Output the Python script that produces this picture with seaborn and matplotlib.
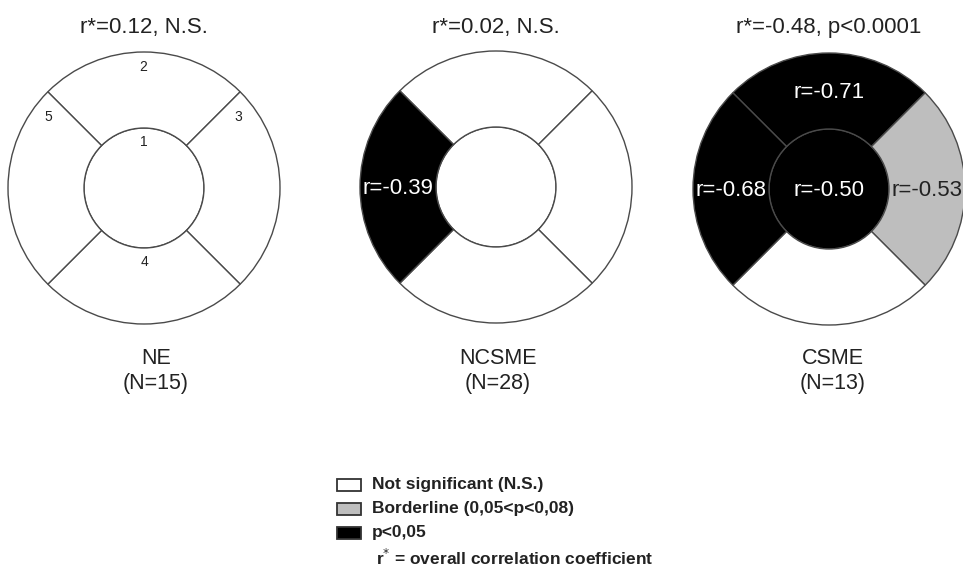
import matplotlib
matplotlib.use("Agg")
import matplotlib.pyplot as plt
from matplotlib.patches import Wedge, Circle, Rectangle
import seaborn as sns

# ---- data -------------------------------------------------------------
groups = ["NE", "NCSME", "CSME"]
n_patients = [15, 28, 13]
overall_r = [0.12, 0.02, -0.48]
overall_p = ["N.S.", "N.S.", "p<0.0001"]

# sector order: 1 = centre, 2 = superior, 3 = right, 4 = inferior, 5 = left
sector_ids = [1, 2, 3, 4, 5]
ne_r = [None, None, None, None, None]
ne_sig = ["ns", "ns", "ns", "ns", "ns"]
ncsme_r = [None, None, None, None, -0.39]
ncsme_sig = ["ns", "ns", "ns", "ns", "sig"]
csme_r = [-0.50, -0.71, -0.53, None, -0.68]
csme_sig = ["sig", "sig", "border", "ns", "sig"]

sector_r = [ne_r, ncsme_r, csme_r]
sector_sig = [ne_sig, ncsme_sig, csme_sig]

legend_labels = ["Not significant (N.S.)", "Borderline (0,05<p<0,08)", "p<0,05"]
legend_keys = ["ns", "border", "sig"]
legend_note = "r$^{*}$ = overall correlation coefficient"

# ---- style ------------------------------------------------------------
sns.set_theme(style="white")
plt.rcParams["font.family"] = ["Liberation Sans", "DejaVu Sans"]

fill = {"ns": "#ffffff", "border": "#bebebe", "sig": "#000000"}
text_col = {"ns": "#222222", "border": "#222222", "sig": "#ffffff"}
edge = "#4a4a4a"

W, H = 963, 572
fig = plt.figure(figsize=(W / 100, H / 100), dpi=100)
ax = fig.add_axes([0, 0, 1, 1])
ax.set_xlim(0, W)
ax.set_ylim(0, H)
ax.set_aspect("equal")
ax.axis("off")


def Y(y):
    """top-down pixel row -> axes y"""
    return H - y


centers = [(144, 188), (496, 187), (829, 189)]
name_x = [156, 498, 833]
r_out, r_in = 136, 60
r_mid = (r_out + r_in) / 2

# angular span of each ring sector (degrees, counter-clockwise)
spans = {2: (45, 135), 5: (135, 225), 4: (225, 315), 3: (-45, 45)}
label_dir = {2: (0, 1), 5: (-1, 0), 4: (0, -1), 3: (1, 0)}

for gi, g in enumerate(groups):
    cx, cy = centers[gi]
    cy = Y(cy)
    for si, sid in enumerate(sector_ids):
        key = sector_sig[gi][si]
        if sid == 1:
            patch = Circle((cx, cy), r_in, facecolor=fill[key],
                           edgecolor=edge, lw=1.0)
            tx, ty = cx, cy
        else:
            t1, t2 = spans[sid]
            patch = Wedge((cx, cy), r_out, t1, t2, width=r_out - r_in,
                          facecolor=fill[key], edgecolor=edge, lw=1.0)
            dx, dy = label_dir[sid]
            tx, ty = cx + dx * r_mid, cy + dy * r_mid
        ax.add_patch(patch)
        val = sector_r[gi][si]
        if val is not None:
            ax.text(tx, ty - 2, f"r={val:.2f}", ha="center", va="center",
                    fontsize=16, color=text_col[key], zorder=5)

    # panel title and group name
    ax.text(centers[gi][0], Y(27), f"r*={overall_r[gi]:.2f}, {overall_p[gi]}",
            ha="center", va="center", fontsize=16, color="#222222")
    ax.text(name_x[gi], Y(358), g, ha="center", va="center",
            fontsize=15.5, color="#222222")
    ax.text(name_x[gi], Y(383), f"(N={n_patients[gi]})", ha="center",
            va="center", fontsize=15.5, color="#222222")

# sector numbering on the first panel
cx, cy = centers[0]
number_pos = {1: (0, -46), 2: (-1, -121), 3: (94, -71), 4: (0, 74), 5: (-96, -71)}
for sid in sector_ids:
    dx, dy = number_pos[sid]
    ax.text(cx + dx, Y(cy + dy), str(sid), ha="center", va="center",
            fontsize=10, color="#222222")

# legend
rows_y = [485, 509, 533]
for lab, key, ry in zip(legend_labels, legend_keys, rows_y):
    ax.add_patch(Rectangle((337, Y(ry) - 6), 24, 12, facecolor=fill[key],
                           edgecolor="#333333", lw=1.3))
    ax.text(372, Y(ry), lab, ha="left", va="center", fontsize=12.5,
            fontweight="bold", color="#222222")
ax.text(376, Y(558), legend_note, ha="left", va="center", fontsize=12.5,
        fontweight="bold", color="#222222")

fig.savefig("out.png", dpi=100, facecolor="white")
